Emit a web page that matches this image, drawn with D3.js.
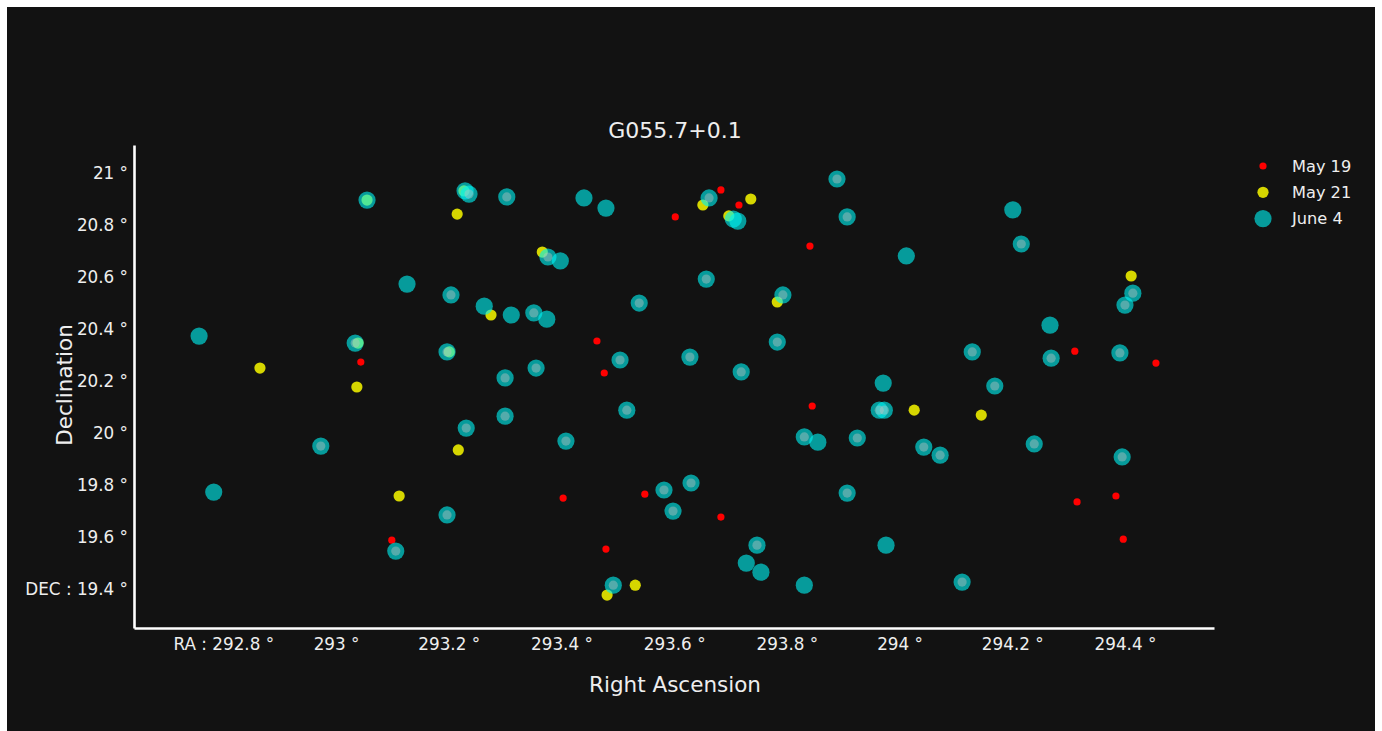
<!DOCTYPE html>
<html>
<head>
<meta charset="utf-8">
<script src="https://cdn.jsdelivr.net/npm/d3@7"></script>
<style>
  html, body { margin: 0; padding: 0; background: #ffffff; }
  svg { display: block; }
</style>
</head>
<body>
<svg id="chart" width="1382" height="731"></svg>
<script>
// ---- data ----
const chartTitle = "G055.7+0.1";
const seriesNames = ["May 19", "May 21", "June 4"];

const may19RA  = [293.044, 293.099, 293.403, 293.463, 293.476, 293.479, 293.548, 293.602, 293.683, 293.715, 293.683, 293.841, 293.845, 294.311, 294.315, 294.384, 294.397, 294.455];
const may19Dec = [20.273, 19.588, 19.750, 20.354, 20.231, 19.554, 19.765, 20.831, 20.935, 20.877, 19.677, 20.719, 20.104, 20.315, 19.735, 19.758, 19.592, 20.269];

const may21RA  = [292.865, 293.039, 293.037, 293.055, 293.112, 293.201, 293.215, 293.217, 293.227, 293.275, 293.366, 293.481, 293.531, 293.651, 293.697, 293.736, 293.783, 294.026, 294.145, 294.411];
const may21Dec = [20.250, 20.346, 20.177, 20.896, 19.758, 20.312, 20.842, 19.935, 20.931, 20.454, 20.696, 19.377, 19.415, 20.877, 20.835, 20.900, 20.504, 20.088, 20.069, 20.604];

const june4RA  = [292.757, 292.783, 292.973, 293.034, 293.055, 293.106, 293.126, 293.197, 293.204, 293.229,
                  293.236, 293.231, 293.197, 293.263, 293.300, 293.300, 293.303, 293.311, 293.351, 293.374,
                  293.376, 293.398, 293.355, 293.408, 293.440, 293.479, 293.504, 293.516, 293.492, 293.538,
                  293.582, 293.630, 293.598, 293.628, 293.657, 293.662, 293.705, 293.713, 293.719, 293.747,
                  293.728, 293.754, 293.783, 293.793, 293.831, 293.855, 293.831, 293.889, 293.907, 293.907,
                  293.925, 293.964, 293.973, 293.971, 293.976, 294.012, 294.043, 294.072, 294.111, 294.129,
                  294.169, 294.201, 294.216, 294.239, 294.267, 294.269, 294.391, 294.395, 294.414, 294.400];
const june4Dec = [20.373, 19.773, 19.950, 20.346, 20.896, 19.546, 20.573, 20.312, 20.531, 20.931,
                  20.919, 20.019, 19.685, 20.488, 20.212, 20.065, 20.908, 20.454, 20.462, 20.438,
                  20.677, 20.662, 20.250, 19.969, 20.904, 20.865, 20.281, 20.088, 19.415, 20.500,
                  19.781, 19.808, 19.700, 20.292, 20.592, 20.904, 20.823, 20.815, 20.235, 19.569,
                  19.500, 19.465, 20.350, 20.531, 19.985, 19.965, 19.415, 20.977, 20.831, 19.769,
                  19.981, 20.088, 20.088, 20.192, 19.569, 20.681, 19.946, 19.915, 19.427, 20.312,
                  20.181, 20.858, 20.727, 19.958, 20.415, 20.288, 20.308, 19.908, 20.538, 20.492];
// 1 = also present in the (unlabelled) matched-source overlay
const june4Matched = [0, 0, 1, 1, 0, 1, 0, 1, 1, 0,
                      1, 1, 1, 0, 1, 1, 1, 0, 1, 0,
                      1, 0, 1, 1, 0, 0, 1, 1, 1, 1,
                      1, 1, 1, 1, 1, 1, 0, 0, 1, 1,
                      0, 0, 1, 1, 1, 0, 0, 1, 1, 1,
                      1, 1, 1, 0, 0, 0, 1, 1, 1, 1,
                      1, 0, 1, 1, 0, 1, 1, 1, 1, 1];

const xTicks = [292.8, 293.0, 293.2, 293.4, 293.6, 293.8, 294.0, 294.2, 294.4];
const xTickLabels = ["RA : 292.8 °", "293 °", "293.2 °", "293.4 °", "293.6 °", "293.8 °", "294 °", "294.2 °", "294.4 °"];
const yTicks = [19.4, 19.6, 19.8, 20.0, 20.2, 20.4, 20.6, 20.8, 21.0];
const yTickLabels = ["DEC : 19.4 °", "19.6 °", "19.8 °", "20 °", "20.2 °", "20.4 °", "20.6 °", "20.8 °", "21 °"];
const xTitle = "Right Ascension";
const yTitle = "Declination";
const xDomain = [292.6415, 294.558];
const yDomain = [19.2503, 21.1077];

// ---- layout / style ----
const FONT = "'DejaVu Sans', Verdana, sans-serif";
const TEXT = "#eeeeee";
const plot = { left: 134, right: 1214, top: 145, bottom: 628 };
const colors = ["#ff0000", "#d6d600", "rgb(0,240,240)"];
const radii = [3.6, 5.6, 8.6];
const opac = [1, 1, 0.62];

const svg = d3.select("#chart");
svg.append("rect").attr("x", 7).attr("y", 7).attr("width", 1368).attr("height", 730).attr("fill", "#121212");

const x = d3.scaleLinear().domain(xDomain).range([plot.left, plot.right]);
const y = d3.scaleLinear().domain(yDomain).range([plot.bottom, plot.top]);

// axes
const xAxis = d3.axisBottom(x).tickValues(xTicks)
  .tickFormat((d, i) => xTickLabels[i]).tickSize(0).tickPadding(10);
const gx = svg.append("g").attr("transform", `translate(0,${plot.bottom})`).call(xAxis);
const yAxis = d3.axisLeft(y).tickValues(yTicks)
  .tickFormat((d, i) => yTickLabels[i]).tickSize(0).tickPadding(6);
const gy = svg.append("g").attr("transform", `translate(${plot.left},0)`).call(yAxis);
[gx, gy].forEach(g => {
  g.select(".domain").attr("stroke", "#ffffff").attr("stroke-width", 2.6);
  g.selectAll("text").attr("fill", TEXT).style("font-family", FONT).style("font-size", "16.8px");
});

// points
function pts(ra, dec) { return ra.map((r, i) => ({ ra: r, dec: dec[i], i })); }
const series = [pts(may19RA, may19Dec), pts(may21RA, may21Dec), pts(june4RA, june4Dec)];
series.forEach((data, s) => {
  svg.append("g").selectAll("circle").data(data).join("circle")
    .attr("cx", d => x(d.ra)).attr("cy", d => y(d.dec))
    .attr("r", radii[s]).attr("fill", colors[s]).attr("fill-opacity", opac[s]);
});
// matched-source centres on June 4 markers
svg.append("g").selectAll("circle").data(series[2].filter(d => june4Matched[d.i]))
  .join("circle")
  .attr("cx", d => x(d.ra)).attr("cy", d => y(d.dec))
  .attr("r", 4.6).attr("fill", "#c0c0c0").attr("fill-opacity", 0.42);

// titles
svg.append("text").attr("x", 675).attr("y", 138).attr("text-anchor", "middle")
  .attr("fill", TEXT).style("font-family", FONT).style("font-size", "22px").text(chartTitle);
svg.append("text").attr("x", 675).attr("y", 692).attr("text-anchor", "middle")
  .attr("fill", TEXT).style("font-family", FONT).style("font-size", "21.5px").text(xTitle);
svg.append("text").attr("transform", "translate(72,385) rotate(-90)").attr("text-anchor", "middle")
  .attr("fill", TEXT).style("font-family", FONT).style("font-size", "21.5px").text(yTitle);

// legend
const lg = svg.append("g").attr("transform", "translate(1263,166)");
seriesNames.forEach((name, s) => {
  const row = lg.append("g").attr("transform", `translate(0,${s * 26.3})`);
  row.append("circle").attr("r", radii[s]).attr("fill", colors[s]).attr("fill-opacity", opac[s]);
  row.append("text").attr("x", 29).attr("dy", "0.35em").attr("fill", TEXT)
    .style("font-family", FONT).style("font-size", "16.2px").text(name);
});
</script>
</body>
</html>
